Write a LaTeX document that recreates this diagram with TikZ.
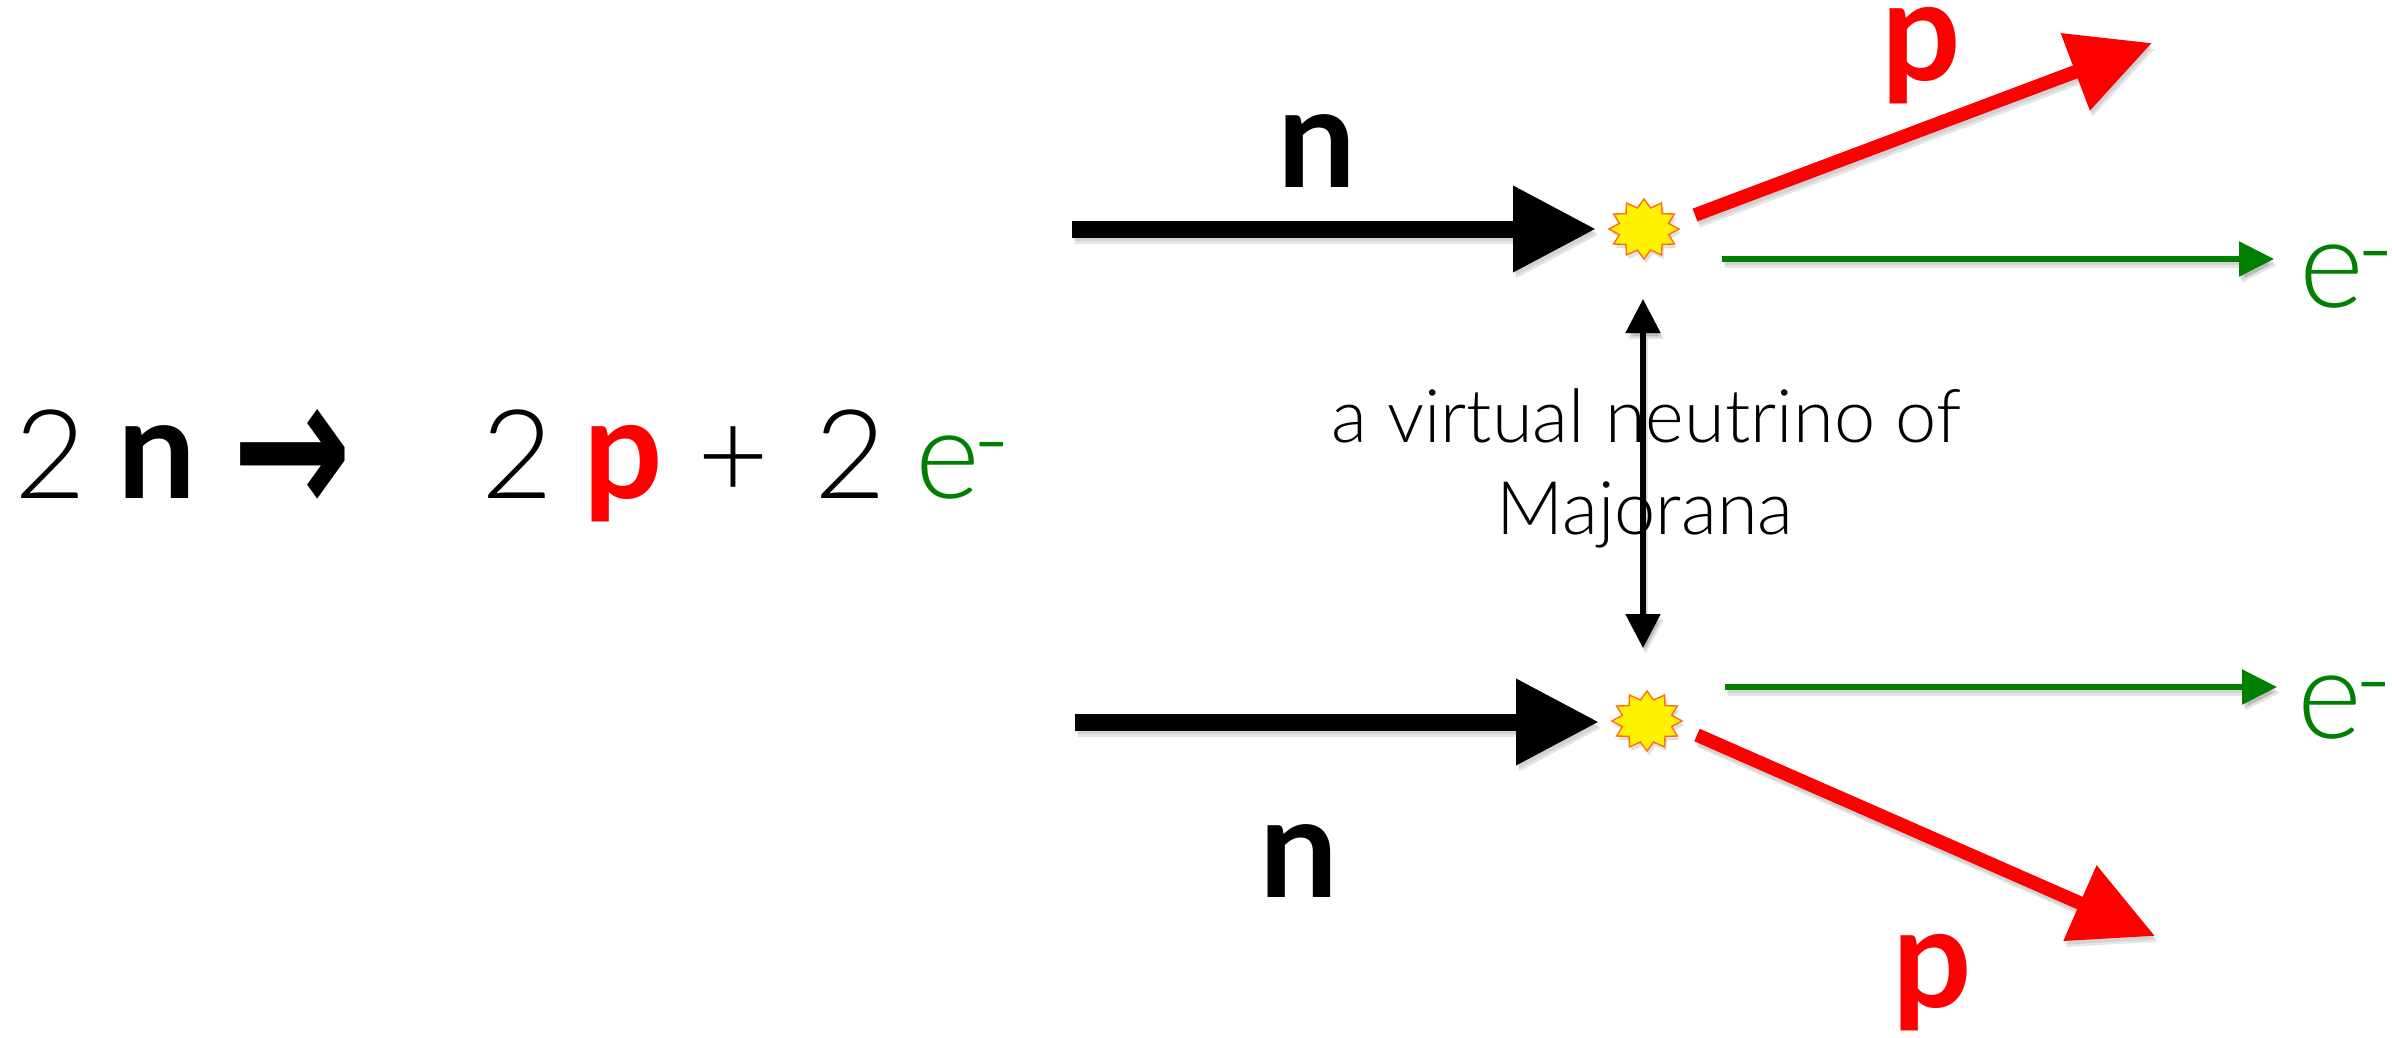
\documentclass[tikz,border=0pt]{standalone}
\usepackage{fontspec}
\setmainfont{Lato Light}[BoldFont={Lato Bold}]
\newfontfamily\symfont{DejaVu Sans}
\usetikzlibrary{arrows.meta,shapes.geometric}
\definecolor{grn}{RGB}{0,128,0}
\definecolor{orng}{RGB}{255,110,20}
\newcommand{\eminus}{e\hspace{-3pt}\raisebox{0.145em}{\scalebox{0.48}[1]{\textendash}}}
\newcommand{\bignb}[1]{{\fontsize{70}{70}\selectfont\bfseries #1}}
\tikzset{
  x=0.5pt,y=-0.5pt,
  thick/.style={line width=8.5pt,-{Triangle[length=41.5pt,width=41pt,sep=0pt]}},
  redarrow/.style={line width=6.8pt,-{Triangle[length=41pt,width=39.5pt,sep=0pt]}},
  thin green/.style={line width=2.8pt,-{Triangle[length=17.5pt,width=17pt,sep=0pt]}},
  both/.style={line width=2.6pt,{Triangle[length=17pt,width=17pt,sep=0pt]}-{Triangle[length=17pt,width=17pt,sep=0pt]}},
  burst/.style={star,star points=12,star point ratio=1.38,minimum size=30pt,inner sep=0pt,
    xscale=1.17,transform shape,draw=orng,line width=0.7pt,fill=yellow},
  burstshadow/.style={star,star points=12,star point ratio=1.38,minimum size=30pt,inner sep=0pt,
    xscale=1.17,transform shape,fill=black,opacity=0.12},
  bigtxt/.style={inner sep=0pt,anchor=base west,font=\fontsize{62}{70}\selectfont},
  labeltxt/.style={inner sep=0pt,anchor=base,font=\fontsize{70}{70}\selectfont\bfseries},
  midtxt/.style={inner sep=0pt,anchor=base,font=\fontsize{37}{44}\selectfont},
  shade1/.style={opacity=0.10,black,transform canvas={shift={(1.4pt,-3pt)}}},
  shade2/.style={opacity=0.08,black,transform canvas={shift={(0.8pt,-1.8pt)}}}
}
\newcommand{\shadowarrow}[4]{%
  \draw[#1,shade1] (#3) -- (#4);
  \draw[#1,shade2] (#3) -- (#4);
  \draw[#1,#2] (#3) -- (#4);}
\begin{document}
\begin{tikzpicture}
\useasboundingbox (0,0) rectangle (2392,1038);
% coordinates
\coordinate (n1s) at (1072,229);
\coordinate (n1e) at (1596,229);
\coordinate (n2s) at (1075,722);
\coordinate (n2e) at (1599,722);
\coordinate (p1s) at (1695,215);
\coordinate (p1e) at (2152,43);
\coordinate (p2s) at (1697,735);
\coordinate (p2e) at (2155,936);
\coordinate (g1s) at (1722,259);
\coordinate (g1e) at (2274,259);
\coordinate (g2s) at (1725,687);
\coordinate (g2e) at (2277,687);
\coordinate (ma) at (1643,299);
\coordinate (mb) at (1643,648);
% bursts
\node[burstshadow] (b1s) at (1646,233) {};
\node[burstshadow] (b2s) at (1649,725) {};
\node[burst] (b1) at (1644,229) {};
\node[burst] (b2) at (1647,721) {};
% arrows
\shadowarrow{thick}{black}{n1s}{n1e}
\shadowarrow{thick}{black}{n2s}{n2e}
\shadowarrow{redarrow}{red}{p1s}{p1e}
\shadowarrow{redarrow}{red}{p2s}{p2e}
\shadowarrow{thin green}{grn}{g1s}{g1e}
\shadowarrow{thin green}{grn}{g2s}{g2e}
\shadowarrow{both}{black}{ma}{mb}
% labels
\node[labeltxt,text=black] (ln1) at (1317,187) {n};
\node[labeltxt,text=black] (ln2) at (1299,897) {n};
\node[labeltxt,text=red] (lp1) at (1921,81) {p};
\node[labeltxt,text=red] (lp2) at (1932,1007) {p};
\node[bigtxt,text=grn] (le1) at (2299,307) {\eminus};
\node[bigtxt,text=grn] (le2) at (2297,738) {\eminus};
% equation
\node[bigtxt] (eqa) at (14,498) {2 \hspace{-1pt}\bignb{n}\hspace{18pt}{\symfont\bfseries\raisebox{-9pt}{\scalebox{1.15}[1.6]{→}}}};
\node[bigtxt] (eqb) at (481,498) {2 \hspace{-1.5pt}\textcolor{red}{\bignb{p}} \hspace{0pt}+ \hspace{6pt}2 \hspace{-2.2pt}\textcolor{grn}{\eminus}};
% middle text
\node[midtxt] (m1) at (1646,442) {a virtual neutrino of};
\node[midtxt] (m2) at (1645,534) {Majorana};
\end{tikzpicture}
\end{document}
